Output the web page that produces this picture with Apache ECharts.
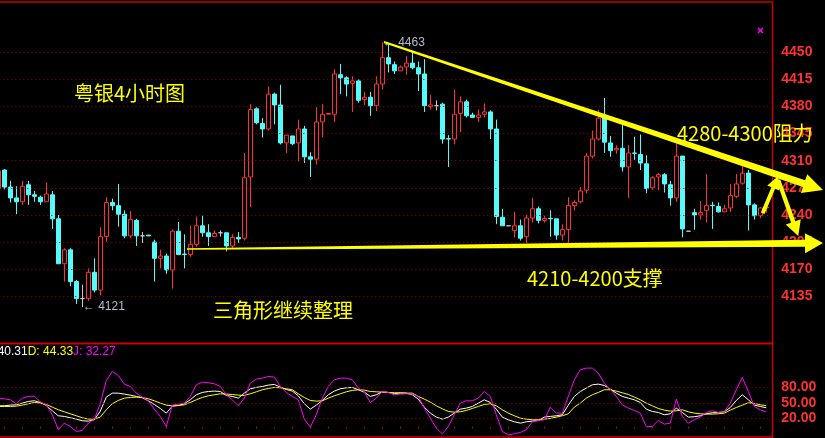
<!DOCTYPE html>
<html>
<head>
<meta charset="utf-8">
<script src="https://cdn.jsdelivr.net/npm/echarts@6/dist/echarts.min.js"></script>
<style>
  html, body { margin: 0; padding: 0; background: #000; }
  #chart { width: 825px; height: 438px; }
</style>
</head>
<body>
<div id="chart"></div>
<script>
// 粤银 4小时K线 + KDJ
const opens = [
  4274, 4298, 4276, 4262, 4257, 4279, 4266, 4263, 4257, 4266,
  4235, 4177, 4195, 4154, 4132, 4132, 4166, 4143, 4212, 4256,
  4252, 4241, 4213, 4233, 4213, 4214, 4205, 4184, 4187, 4169,
  4219, 4189.5, 4189, 4202, 4226, 4217, 4212, 4217, 4217, 4200,
  4211, 4210, 4289, 4377, 4358, 4351, 4396, 4382, 4333, 4342,
  4333, 4351, 4315, 4312, 4360, 4370, 4370, 4421, 4417, 4410,
  4413, 4389, 4392, 4381, 4409, 4443, 4434, 4426, 4431, 4436,
  4430, 4422, 4380, 4381, 4383, 4338.5, 4338, 4371, 4386, 4369,
  4366, 4370, 4373, 4351, 4237, 4226, 4220, 4226, 4212, 4236,
  4248, 4233, 4235.7, 4235, 4214, 4221, 4252, 4257, 4272, 4316,
  4338, 4365, 4333, 4324, 4326, 4302, 4320, 4318, 4306, 4275,
  4289, 4292, 4279, 4262, 4316, 4219, 4243, 4240, 4246, 4252.5,
  4251, 4244, 4249, 4264, 4281, 4294, 4253, 4239, 4249
]
const closes = [
  4297, 4276, 4262, 4257, 4277, 4266, 4264, 4257, 4267, 4235,
  4177, 4195, 4154, 4132, 4132, 4166, 4143, 4212, 4256, 4252,
  4241, 4213, 4234, 4213, 4213, 4213, 4184, 4187, 4169, 4219,
  4189, 4189, 4202, 4226, 4217, 4212, 4216, 4217, 4200, 4211,
  4209, 4288, 4376, 4359, 4351, 4396, 4382, 4333, 4343, 4332,
  4351, 4315, 4312, 4360, 4370, 4371, 4422, 4417, 4409, 4413,
  4388, 4392, 4381, 4409, 4443, 4435, 4426, 4431, 4436, 4430,
  4422, 4381, 4382, 4381, 4338, 4338, 4370, 4386, 4368, 4366,
  4369, 4373, 4351, 4238, 4226, 4226, 4226, 4210, 4236, 4248,
  4233, 4235.5, 4235, 4214, 4221, 4252, 4256, 4271, 4316, 4338,
  4365, 4334, 4323, 4326, 4302, 4320, 4319.5, 4307, 4274, 4288,
  4292, 4280, 4262, 4316, 4222, 4219, 4240, 4243, 4252, 4252,
  4244, 4248, 4265, 4280, 4294, 4253, 4239, 4249, 4250
]
const lows = [
  4272, 4273, 4256, 4241, 4253, 4253, 4257, 4253, 4257, 4222,
  4177, 4154, 4148, 4125, 4121, 4129, 4140, 4136, 4205, 4246,
  4225, 4210, 4210, 4200, 4204, 4213, 4154, 4171, 4164, 4145,
  4188, 4171, 4186, 4199, 4212, 4200, 4212, 4212, 4193, 4197,
  4204, 4207, 4250, 4357, 4340, 4349, 4357, 4331, 4320, 4330,
  4309, 4307, 4289, 4305, 4340, 4370, 4360, 4396, 4393, 4373,
  4385, 4382, 4368, 4374, 4402, 4424, 4422, 4426, 4421, 4428,
  4400, 4373, 4376, 4375, 4332, 4302, 4331, 4347, 4366, 4365,
  4360, 4366, 4338, 4228, 4226, 4226, 4211, 4207, 4204, 4230,
  4229, 4230, 4212, 4208, 4207, 4203, 4246, 4255, 4268, 4313,
  4336, 4320, 4315, 4319, 4296, 4262, 4311, 4298, 4268, 4272,
  4272, 4269, 4252, 4257, 4211, 4219, 4221, 4234, 4230, 4222,
  4243, 4244, 4244, 4262, 4279, 4220, 4234, 4236, 4243
]
const highs = [
  4298, 4299, 4284, 4277, 4284, 4284, 4271, 4265, 4282, 4271,
  4240, 4197, 4197, 4156, 4150, 4171, 4184, 4224, 4263, 4261,
  4280, 4246, 4245, 4235, 4218, 4214, 4208, 4195, 4190, 4221,
  4231, 4215, 4226, 4238, 4239, 4228, 4220, 4220, 4217, 4215,
  4218, 4320, 4383, 4379, 4365, 4406, 4398, 4408, 4343, 4342,
  4363, 4355, 4321, 4379, 4383, 4371, 4428, 4435, 4419, 4419,
  4415, 4399, 4399, 4419, 4463, 4462, 4438, 4433, 4445, 4450,
  4438, 4441, 4395, 4388, 4385, 4343, 4402, 4393, 4389, 4372,
  4376, 4384, 4375, 4363, 4248, 4226, 4244, 4234, 4240, 4262,
  4251, 4239, 4246, 4235, 4228, 4263, 4259, 4276, 4320, 4349,
  4376, 4391, 4342, 4330, 4356, 4330, 4341, 4344, 4317, 4290,
  4294, 4294, 4284, 4332, 4316, 4219, 4248, 4258, 4293, 4257,
  4256, 4253, 4280, 4293, 4303, 4298, 4255, 4250, 4250
]

const kValues = [
  44.2, 44.2, 45.5, 46.1, 49.4, 52.6, 53.9, 50.6, 44.8, 34.5,
  24.9, 23.6, 21.0, 18.4, 15.2, 14.5, 17.1, 33.9, 61.0, 68.7,
  68.7, 66.8, 64.8, 62.3, 59.7, 53.9, 46.8, 39.0, 30.0, 43.5,
  44.8, 48.1, 55.8, 65.5, 70.0, 71.9, 72.6, 71.9, 64.2, 62.3,
  59.0, 68.7, 77.1, 79.7, 81.6, 84.2, 85.5, 80.3, 75.8, 72.6,
  63.5, 48.1, 37.7, 45.5, 54.5, 65.5, 72.6, 77.1, 79.0, 79.7,
  75.2, 70.6, 62.3, 65.5, 71.3, 70.0, 68.1, 68.7, 68.7, 65.5,
  57.1, 41.6, 30.0, 22.3, 18.4, 22.3, 30.0, 37.7, 39.7, 42.9,
  49.4, 55.8, 50.6, 37.7, 22.3, 17.1, 13.2, 10.6, 13.2, 14.5,
  15.8, 22.3, 23.6, 24.9, 26.8, 45.5, 62.3, 71.9, 78.4, 84.8,
  86.1, 83.5, 76.5, 68.7, 62.3, 59.0, 55.8, 50.6, 37.7, 33.2,
  31.3, 26.8, 28.7, 39.7, 31.3, 22.3, 23.0, 24.9, 28.7, 30.7,
  31.3, 32.6, 40.9, 54.5, 65.5, 55.8, 45.5, 42.9, 40.31
]
const dValues = [
  42.9, 42.9, 42.9, 43.5, 45.5, 48.1, 50.6, 49.4, 46.8, 41.6,
  36.5, 32.6, 28.7, 24.9, 21.0, 18.4, 18.4, 22.3, 36.5, 48.1,
  54.5, 59.0, 60.3, 61.0, 60.3, 57.7, 53.9, 49.4, 45.5, 44.2,
  44.8, 46.1, 50.6, 55.8, 60.3, 63.5, 65.5, 67.4, 66.8, 66.1,
  64.8, 64.2, 67.4, 71.3, 75.2, 77.7, 79.7, 79.0, 77.1, 75.2,
  67.4, 60.3, 54.5, 53.2, 53.9, 59.0, 63.5, 67.4, 71.3, 73.9,
  75.2, 74.5, 71.9, 71.3, 70.6, 70.0, 69.4, 69.4, 68.7, 68.7,
  62.3, 57.1, 51.3, 44.2, 38.4, 33.2, 31.9, 32.6, 35.2, 39.0,
  42.9, 46.8, 48.1, 44.2, 36.5, 30.0, 24.9, 20.3, 18.4, 17.1,
  17.1, 18.4, 19.7, 22.3, 24.9, 28.7, 41.6, 49.4, 59.0, 65.5,
  70.0, 75.2, 75.2, 72.6, 69.4, 66.1, 61.0, 55.8, 49.4, 44.2,
  39.0, 35.8, 33.9, 34.5, 36.5, 32.6, 30.0, 28.7, 28.1, 28.1,
  28.7, 30.0, 35.8, 40.9, 45.5, 50.0, 48.7, 46.1, 44.33
]
const jValues = [
  59.0, 57.7, 55.8, 48.1, 59.0, 62.3, 62.9, 51.9, 46.1, 26.8,
  -2.2, 10.6, 4.2, -5.5, -3.5, 10.6, 18.4, 48.1, 93.2, 110.6,
  102.9, 86.1, 81.6, 68.7, 61.0, 53.9, 37.7, 23.6, 4.2, 45.5,
  47.4, 49.4, 62.3, 84.8, 90.0, 88.7, 86.8, 81.6, 65.5, 55.8,
  44.2, 59.0, 88.0, 95.8, 97.7, 101.0, 99.7, 81.6, 70.0, 62.3,
  55.8, 18.4, 2.9, 26.8, 59.0, 81.6, 94.5, 97.7, 97.7, 94.5,
  78.4, 71.3, 50.6, 59.0, 71.9, 70.0, 65.5, 66.8, 67.4, 66.8,
  62.3, 39.7, 20.3, 1.0, -10.0, 4.2, 26.8, 49.4, 53.9, 53.9,
  59.0, 71.9, 62.3, 26.8, -5.5, -11.9, -10.0, -7.4, -2.2, 13.2,
  15.8, 17.1, 41.6, 30.0, 30.0, 62.3, 94.5, 113.9, 117.1, 117.1,
  107.4, 88.0, 76.5, 62.3, 46.1, 39.7, 35.2, 30.0, 4.2, 4.2,
  15.8, 8.7, 10.6, 57.1, 23.6, 10.6, 17.1, 22.3, 31.3, 34.5,
  31.3, 33.2, 49.4, 75.2, 99.0, 71.9, 42.9, 36.5, 32.27
]

const priceTicks = [4450, 4415, 4380, 4345, 4310, 4275, 4240, 4205, 4170, 4135]
const kdjTicks = [80, 50, 20]
const highMark = [64, 4463]
const lowMark = [14, 4121]

// 趋势线、箭头（[K线序号, 价格]）
const resistanceLine = [[64.28, 4463.3], [137.45, 4272.2]]
const supportLine = [[31.45, 4196.1], [137.45, 4203.8]]
const upArrow = [[127.4, 4242.2], [130.0, 4290.3]]
const downArrow = [[130.0, 4285.1], [133.33, 4212.8]]

const categories = opens.map((v, i) => String(i))
const candles = opens.map((o, i) => [o, closes[i], lows[i], highs[i]])

const chart = echarts.init(document.getElementById('chart'))
const gridLeft = -4.7
const gridWidth = 774
const frameRed = '#cc0000'
const axisRed = '#ff3232'

const option = {
  backgroundColor: '#000',
  animation: false,
  grid: [
    { left: gridLeft, width: gridWidth, top: 2, height: 341, outerBoundsMode: 'none' },
    { left: gridLeft, width: gridWidth, top: 343, height: 94, outerBoundsMode: 'none' }
  ],
  xAxis: [
    { type: 'category', gridIndex: 0, data: categories, boundaryGap: true, show: false },
    {
      type: 'category', gridIndex: 1, data: categories, boundaryGap: true,
      axisLine: { show: false },
      axisLabel: { show: false },
      splitLine: { show: false },
      axisTick: {
        show: true, inside: true, length: 2, alignWithLabel: true,
        interval: idx => idx % 3 === 1,
        lineStyle: { color: frameRed }
      }
    }
  ],
  yAxis: [
    { type: 'value', gridIndex: 0, min: 4074.7, max: 4514.9, show: false },
    { type: 'value', gridIndex: 1, min: -16.2, max: 165.7, show: false }
  ],
  series: [
    {
      type: 'candlestick',
      xAxisIndex: 0,
      yAxisIndex: 0,
      data: candles,
      barWidth: 4,
      itemStyle: {
        color: '#000',
        color0: '#54fcfc',
        borderColor: axisRed,
        borderColor0: '#54fcfc',
        borderColorDoji: '#c8c8c8',
        borderWidth: 1
      },
      markLine: {
        silent: true,
        symbol: 'none',
        lineStyle: { color: '#a00000', type: [1, 3], width: 1 },
        label: {
          position: 'end', distance: 12, color: axisRed,
          fontSize: 14, fontWeight: 'bold', fontFamily: 'Liberation Sans',
          formatter: p => p.value
        },
        data: priceTicks.map(v => ({ yAxis: v }))
      },
      markPoint: {
        silent: true,
        symbol: 'circle',
        symbolSize: 1,
        itemStyle: { color: 'rgba(0,0,0,0)' },
        label: {
          show: true, position: 'right', distance: 0,
          color: '#b4bccc', fontSize: 12, fontFamily: 'Liberation Sans, DejaVu Sans',
          formatter: p => '← ' + p.value
        },
        data: [
          { coord: highMark, value: highMark[1] },
          { coord: lowMark, value: lowMark[1] }
        ]
      }
    },
    {
      type: 'line', name: 'K', xAxisIndex: 1, yAxisIndex: 1, data: kValues,
      symbol: 'none', lineStyle: { color: '#ffffff', width: 1 },
      markLine: {
        silent: true,
        symbol: 'none',
        lineStyle: { color: '#a00000', type: [1, 3], width: 1 },
        label: {
          position: 'end', distance: 12, color: axisRed,
          fontSize: 14, fontWeight: 'bold', fontFamily: 'Liberation Sans',
          formatter: p => Number(p.value).toFixed(2)
        },
        data: kdjTicks.map(v => ({ yAxis: v }))
      }
    },
    {
      type: 'line', name: 'D', xAxisIndex: 1, yAxisIndex: 1, data: dValues,
      symbol: 'none', lineStyle: { color: '#ffff00', width: 1 }
    },
    {
      type: 'line', name: 'J', xAxisIndex: 1, yAxisIndex: 1, data: jValues,
      symbol: 'none', lineStyle: { color: '#ff00ff', width: 1 }
    }
  ]
}

chart.setOption(option)

function toPx(idx, price) {
  const a = chart.convertToPixel({ gridIndex: 0 }, [0, price])
  const b = chart.convertToPixel({ gridIndex: 0 }, [1, price])
  return [a[0] + (b[0] - a[0]) * idx, a[1]]
}

// 锥形箭头：起点细，终点粗
function arrowPoints(from, to, w0, w1, headLen, headHalf) {
  const s = toPx(from[0], from[1])
  const t = toPx(to[0], to[1])
  const dx = t[0] - s[0]
  const dy = t[1] - s[1]
  const len = Math.hypot(dx, dy)
  const ux = dx / len
  const uy = dy / len
  const nx = -uy
  const ny = ux
  const bx = t[0] - ux * headLen
  const by = t[1] - uy * headLen
  return [
    [s[0] + nx * w0, s[1] + ny * w0],
    [bx + nx * w1, by + ny * w1],
    [bx + nx * headHalf, by + ny * headHalf],
    t,
    [bx - nx * headHalf, by - ny * headHalf],
    [bx - nx * w1, by - ny * w1],
    [s[0] - nx * w0, s[1] - ny * w0]
  ]
}

const yellow = '#ffff00'
const cjk = 'Noto Sans CJK SC'
const n = kValues.length - 1

function arrow(from, to, w0, w1, hl, hh) {
  return {
    type: 'polygon', z: 100, silent: true,
    shape: { points: arrowPoints(from, to, w0, w1, hl, hh) },
    style: { fill: yellow }
  }
}

function label(text, x, y, size) {
  return {
    type: 'text', z: 110, silent: true, x: x, y: y,
    style: { text: text, fill: yellow, font: size + 'px "' + cjk + '"', verticalAlign: 'middle' }
  }
}

function frameLine(x1, y1, x2, y2, w) {
  return {
    type: 'line', z: 90, silent: true,
    shape: { x1: x1, y1: y1, x2: x2, y2: y2 },
    style: { stroke: frameRed, lineWidth: w }
  }
}

chart.setOption({
  graphic: [
    frameLine(0, 2, 772.5, 2, 1.5),
    frameLine(772.5, 1.5, 772.5, 438, 1.5),
    frameLine(0, 343.5, 772.5, 343.5, 2),
    frameLine(0, 437, 772.5, 437, 1.5),
    arrow(resistanceLine[0], resistanceLine[1], 1, 3.5, 20, 10),
    arrow(supportLine[0], supportLine[1], 0.8, 3.5, 18, 10),
    arrow(upArrow[0], upArrow[1], 2, 2, 13, 6.5),
    arrow(downArrow[0], downArrow[1], 2, 2.2, 15, 8),
    label('粤银4小时图', 74, 93, 20),
    label('三角形继续整理', 213, 310, 20),
    label('4210-4200支撑', 527, 278, 20),
    label('4280-4300阻力', 677, 133, 20),
    {
      type: 'group', z: 100, silent: true, x: 760.5, y: 30.5,
      children: [
        { type: 'line', shape: { x1: -2.5, y1: -2.5, x2: 2.5, y2: 2.5 }, style: { stroke: '#ff00ff', lineWidth: 1.5 } },
        { type: 'line', shape: { x1: -2.5, y1: 2.5, x2: 2.5, y2: -2.5 }, style: { stroke: '#ff00ff', lineWidth: 1.5 } }
      ]
    },
    {
      type: 'text', z: 110, silent: true, x: -17, y: 352,
      style: {
        text: '{k|K: ' + kValues[n].toFixed(2) + '}{d|D: ' + dValues[n].toFixed(2) + '}{j|J: ' + jValues[n].toFixed(2) + '}',
        font: '12px "Liberation Sans"',
        verticalAlign: 'middle',
        rich: {
          k: { fill: '#ffffff', font: '12px "Liberation Sans"' },
          d: { fill: '#ffff00', font: '12px "Liberation Sans"' },
          j: { fill: '#ff00ff', font: '12px "Liberation Sans"' }
        }
      }
    }
  ]
})
</script>
</body>
</html>
